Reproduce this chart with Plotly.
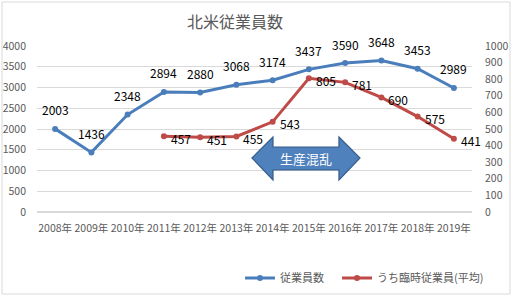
import plotly.graph_objects as go

years = ["2008年", "2009年", "2010年", "2011年", "2012年", "2013年",
         "2014年", "2015年", "2016年", "2017年", "2018年", "2019年"]
employees = [2003, 1436, 2348, 2894, 2880, 3068, 3174, 3437, 3590, 3648, 3453, 2989]
temp_years = years[3:]
temp_employees = [457, 451, 455, 543, 805, 781, 690, 575, 441]

FONT = "Noto Sans CJK JP, Noto Sans, sans-serif"
BLUE = "#4a7ebb"
RED = "#be4b48"
W, H = 513, 296
L, R, T, B = 37, 41, 46, 84
PW, PH = W - L - R, H - T - B

fig = go.Figure()
fig.add_trace(go.Scatter(
    x=years, y=employees, name="従業員数", mode="lines+markers",
    line=dict(color=BLUE, width=3), marker=dict(size=6, color=BLUE), cliponaxis=False,
    legend="legend",
))
fig.add_trace(go.Scatter(
    x=temp_years, y=temp_employees, name="うち臨時従業員(平均)", mode="lines+markers",
    line=dict(color=RED, width=3), marker=dict(size=6, color=RED),
    yaxis="y2", cliponaxis=False, legend="legend2",
))

# data labels
for xv, yv in zip(years, employees):
    fig.add_annotation(x=xv, y=yv, xref="x", yref="y", text=str(yv), showarrow=False,
                       yshift=19, font=dict(size=12, color="#000000", family=FONT))
for xv, yv in zip(temp_years, temp_employees):
    fig.add_annotation(x=xv, y=yv, xref="x", yref="y2", text=str(yv), showarrow=False,
                       xanchor="left", xshift=5, yshift=-2,
                       font=dict(size=12, color="#000000", family=FONT))

# double arrow annotation (data coords on x category index / y left axis)
ax0, ax1 = 5.43, 8.41
hx0, hx1 = 6.01, 7.83
ymid, yh_top, yh_bot, yb_top, yb_bot = 1301, 1807, 771, 1566, 1012
path = (f"M {ax0},{ymid} L {hx0},{yh_top} L {hx0},{yb_top} L {hx1},{yb_top} "
        f"L {hx1},{yh_top} L {ax1},{ymid} L {hx1},{yh_bot} L {hx1},{yb_bot} "
        f"L {hx0},{yb_bot} L {hx0},{yh_bot} Z")
fig.add_shape(type="path", path=path, xref="x", yref="y",
              fillcolor="#4f81bd", line=dict(color="#385d8a", width=1.2))
fig.add_annotation(x=(ax0 + ax1) / 2, y=ymid, xref="x", yref="y", text="生産混乱",
                   showarrow=False, font=dict(size=13, color="white", family=FONT))

# outer chart border
fig.add_shape(type="rect", xref="paper", yref="paper",
              x0=(2 - L) / PW, x1=(510 - L) / PW,
              y0=(H - B - 294) / PH, y1=(H - B - 2) / PH,
              line=dict(color="#d9d9d9", width=1))

leg_common = dict(orientation="h", xanchor="left", yanchor="middle",
                  y=-(278 - (H - B)) / PH,
                  font=dict(size=11, color="#595959", family=FONT),
                  bgcolor="rgba(0,0,0,0)")

fig.update_layout(
    width=W, height=H, margin=dict(l=L, r=R, t=T, b=B, autoexpand=False),
    paper_bgcolor="white", plot_bgcolor="white",
    font=dict(family=FONT, color="#595959", size=11),
    title=dict(text="北米従業員数", x=235 / W, xanchor="center",
               y=1 - 22 / H, yanchor="middle",
               font=dict(size=16, color="#595959", family=FONT)),
    showlegend=True,
    legend=dict(x=(240 - L) / PW, **leg_common),
    legend2=dict(x=(337 - L) / PW, **leg_common),
    xaxis=dict(type="category", range=[-0.5, 11.5], showgrid=False, showline=False,
               ticks="", tickangle=0, tickfont=dict(size=10.5, color="#595959"),
               ticklabelstandoff=8, automargin=False),
    yaxis=dict(range=[0, 4000], dtick=500, showgrid=True, gridcolor="#d9d9d9",
               gridwidth=1, zeroline=True, zerolinecolor="#d9d9d9", showline=False,
               ticks="", tickfont=dict(size=10.5, color="#595959"), ticklabelstandoff=10,
               automargin=False),
    yaxis2=dict(range=[0, 1000], dtick=100, overlaying="y", side="right", showgrid=False,
                zeroline=False, showline=False, ticks="",
                tickfont=dict(size=10.5, color="#595959"), ticklabelstandoff=12,
                automargin=False),
)

fig.write_html("out.html")
